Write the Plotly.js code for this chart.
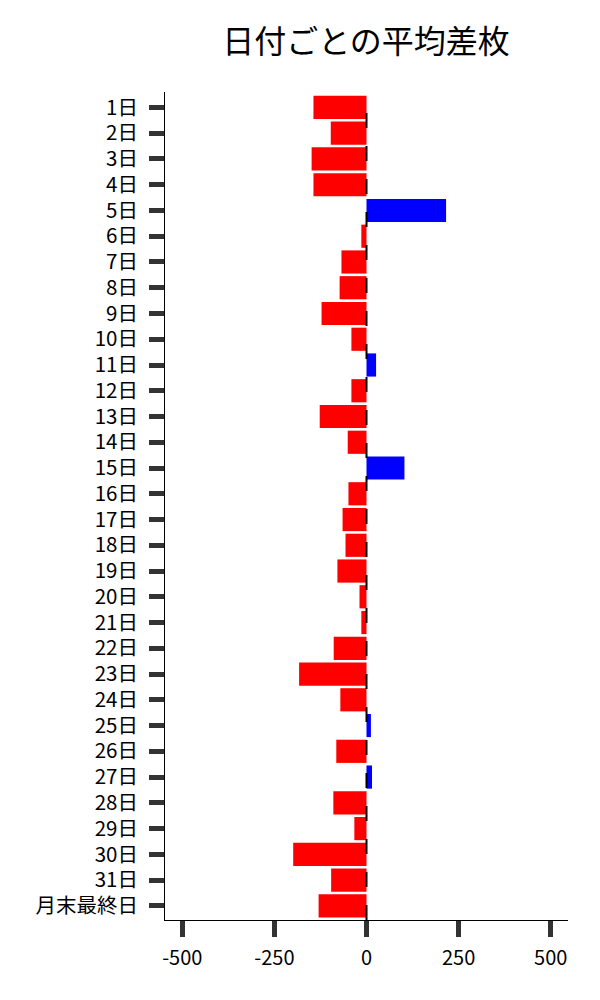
<!DOCTYPE html>
<html>
<head>
<meta charset="utf-8">
<script src="https://cdn.plot.ly/plotly-3.0.1.min.js"></script>
<style>
  html, body { margin: 0; padding: 0; background: #fff; }
  #chart { width: 600px; height: 1000px; }
</style>
</head>
<body>
<div id="chart"></div>
<script>
var days = [
  "1日", "2日", "3日", "4日", "5日", "6日", "7日", "8日", "9日", "10日",
  "11日", "12日", "13日", "14日", "15日", "16日", "17日", "18日", "19日", "20日",
  "21日", "22日", "23日", "24日", "25日", "26日", "27日", "28日", "29日", "30日",
  "31日", "月末最終日"
];
var avgDiff = [
  -144, -97, -149, -144, 216, -14, -68, -73, -122, -41,
  26, -41, -127, -51, 103, -49, -65, -57, -79, -19,
  -14, -89, -183, -71, 12, -82, 15, -90, -33, -199,
  -96, -130
];
var xTicks = [-500, -250, 0, 250, 500];

function plotDailyDiff() {
  var font = "Noto Sans CJK JP, Noto Sans, sans-serif";
  var colors = avgDiff.map(function (v) { return v >= 0 ? "#0000ff" : "#ff0000"; });

  var bars = {
    type: "bar",
    orientation: "h",
    x: avgDiff,
    y: days,
    marker: { color: colors, line: { width: 0 } },
    hoverinfo: "x+y"
  };

  var layout = {
    width: 600,
    height: 1000,
    margin: { l: 165, r: 32, t: 92, b: 80 },
    paper_bgcolor: "#ffffff",
    plot_bgcolor: "#ffffff",
    showlegend: false,
    bargap: 0.1,
    font: { family: font, size: 20, color: "#000000" },
    title: {
      text: "日付ごとの平均差枚",
      font: { family: font, size: 32, color: "#000000" },
      x: 0.61,
      xanchor: "center",
      y: 0.958,
      yanchor: "middle"
    },
    xaxis: {
      range: [-547, 547],
      tickvals: xTicks,
      ticktext: xTicks.map(String),
      ticks: "outside",
      ticklen: 16,
      tickwidth: 5,
      tickcolor: "#333333",
      ticklabelstandoff: 4,
      showline: true,
      linecolor: "#000000",
      linewidth: 1,
      showgrid: false,
      zeroline: false,
      tickfont: { family: font, size: 20 }
    },
    yaxis: {
      type: "category",
      categoryorder: "array",
      categoryarray: days,
      range: [31.55, -0.6],
      ticks: "outside",
      ticklen: 15,
      tickwidth: 5,
      tickcolor: "#333333",
      ticklabelstandoff: 7,
      showline: true,
      linecolor: "#000000",
      linewidth: 1,
      showgrid: false,
      zeroline: false,
      tickfont: { family: font, size: 20.5 }
    },
    shapes: [{
      type: "line",
      xref: "x",
      yref: "paper",
      x0: 0, x1: 0,
      y0: 0, y1: 0.985,
      layer: "above",
      line: { color: "#000000", width: 2, dash: "15px,18px" }
    }]
  };

  Plotly.newPlot("chart", [bars], layout, { displayModeBar: false, staticPlot: true });
}
plotDailyDiff();
</script>
</body>
</html>
